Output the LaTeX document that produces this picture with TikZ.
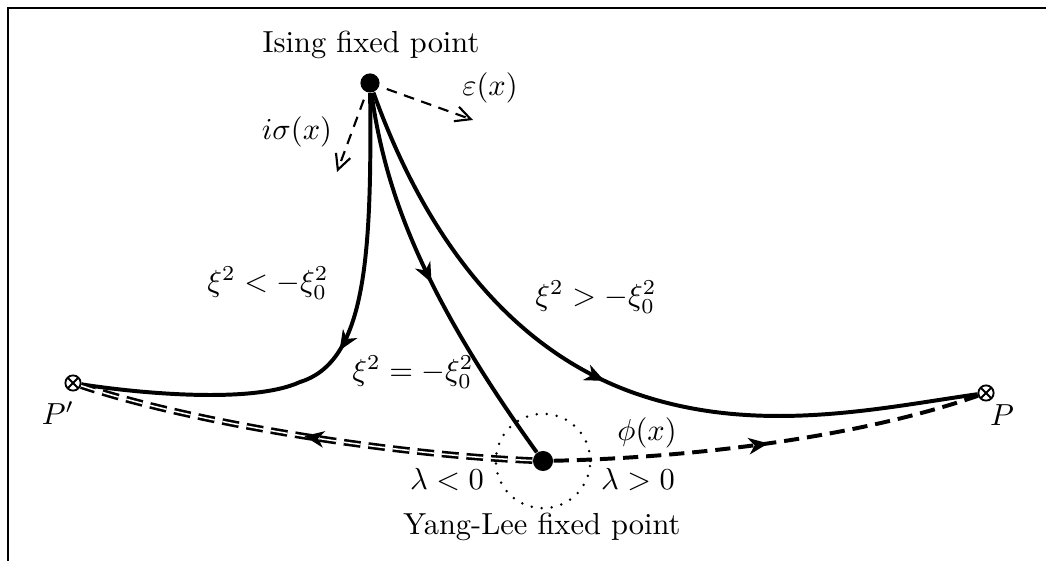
\documentclass[tikz,border=0pt]{standalone}
\usetikzlibrary{arrows.meta,decorations.markings}
\begin{document}
\begin{tikzpicture}[x=0.3284pt,y=-0.3284pt,
  fixdot/.style={circle, fill=black, inner sep=0pt, minimum size=6.3pt},
  otimesnode/.style={circle, draw, line width=0.6pt, inner sep=0pt, minimum size=5pt,
    path picture={\draw[line width=0.6pt] (path picture bounding box.north west) -- (path picture bounding box.south east)
      (path picture bounding box.north east) -- (path picture bounding box.south west);}},
  flow/.style={line width=1.3pt},
  midarrow/.style={postaction={decorate}, decoration={markings,
    mark=at position #1 with {\arrow{Stealth[length=6.5pt,width=5.5pt,inset=2pt]}}}},
  tipmark/.style={decoration={markings,
    mark=at position #1 with {\arrow{Stealth[length=6.5pt,width=5.5pt,inset=2pt]}}}, decorate},
  pertarrow/.style={line width=0.7pt, dash pattern=on 3.5pt off 2.5pt, -{Straight Barb[length=5pt,width=5pt]}, shorten <=2.5pt},
  lbl/.style={inner sep=1pt}
]
\useasboundingbox (0,0) rectangle (1046,561);
\draw[line width=0.7pt] (8,561) -- (8,8) -- (1046,8);

% nodes
\node[fixdot] (I) at (370,83) {};
\node[fixdot, minimum size=6.6pt] (Y) at (543,461) {};
\node[otimesnode] (Pp) at (73,383) {};
\node[otimesnode] (P) at (986,393) {};
\node[circle, draw, line width=0.9pt, line cap=round, dash pattern=on 0pt off 3.3pt, minimum size=31pt, inner sep=0pt] (ring) at (543,461) {};
\coordinate (eps) at (473,120);
\coordinate (sig) at (337,172);

% labels
\node[lbl] (Ilab) at (371,45) {Ising fixed point};
\node[lbl] (Ylab) at (542,527) {Yang-Lee fixed point};
\node[lbl] at (490,88) {$\varepsilon(x)$};
\node[lbl] at (297,132) {$i\sigma(x)$};
\node[lbl] at (268,283) {$\xi^2<-\xi_0^2$};
\node[lbl] at (413,372) {$\xi^2=-\xi_0^2$};
\node[lbl] at (596,297) {$\xi^2>-\xi_0^2$};
\node[lbl] at (647,433) {$\phi(x)$};
\node[lbl] at (447,480) {$\lambda<0$};
\node[lbl] at (638,480) {$\lambda>0$};
\node[lbl] at (58,413) {$P'$};
\node[lbl] at (1002,415) {$P$};

% perturbation arrows
\draw[pertarrow] (I) -- (eps);
\draw[pertarrow] (I) -- (sig);

% flows
\draw[flow, midarrow=0.49] (I) .. controls (372,260) and (365,362) .. (300,382)
   .. controls (250,405) and (130,392) .. (Pp);
\draw[flow, midarrow=0.5] (I) .. controls (385,190) and (420,290) .. (Y);
\draw[flow, midarrow=0.5] (I) .. controls (430,250) and (520,355) .. (640,395)
   .. controls (760,435) and (880,408) .. (P);

% dashed flows from Yang-Lee
\draw[line width=0.85pt, double, double distance=0.5pt, dash pattern=on 5.5pt off 2.6pt]
   (Y) .. controls (400,455) and (200,425) .. (Pp);
\path[tipmark=0.5] (Y) .. controls (400,455) and (200,425) .. (Pp);
\draw[line width=1.3pt, dash pattern=on 5pt off 2.6pt]
   (Y) .. controls (680,458) and (850,440) .. (P);
\path[tipmark=0.5] (Y) .. controls (680,458) and (850,440) .. (P);
\end{tikzpicture}
\end{document}
